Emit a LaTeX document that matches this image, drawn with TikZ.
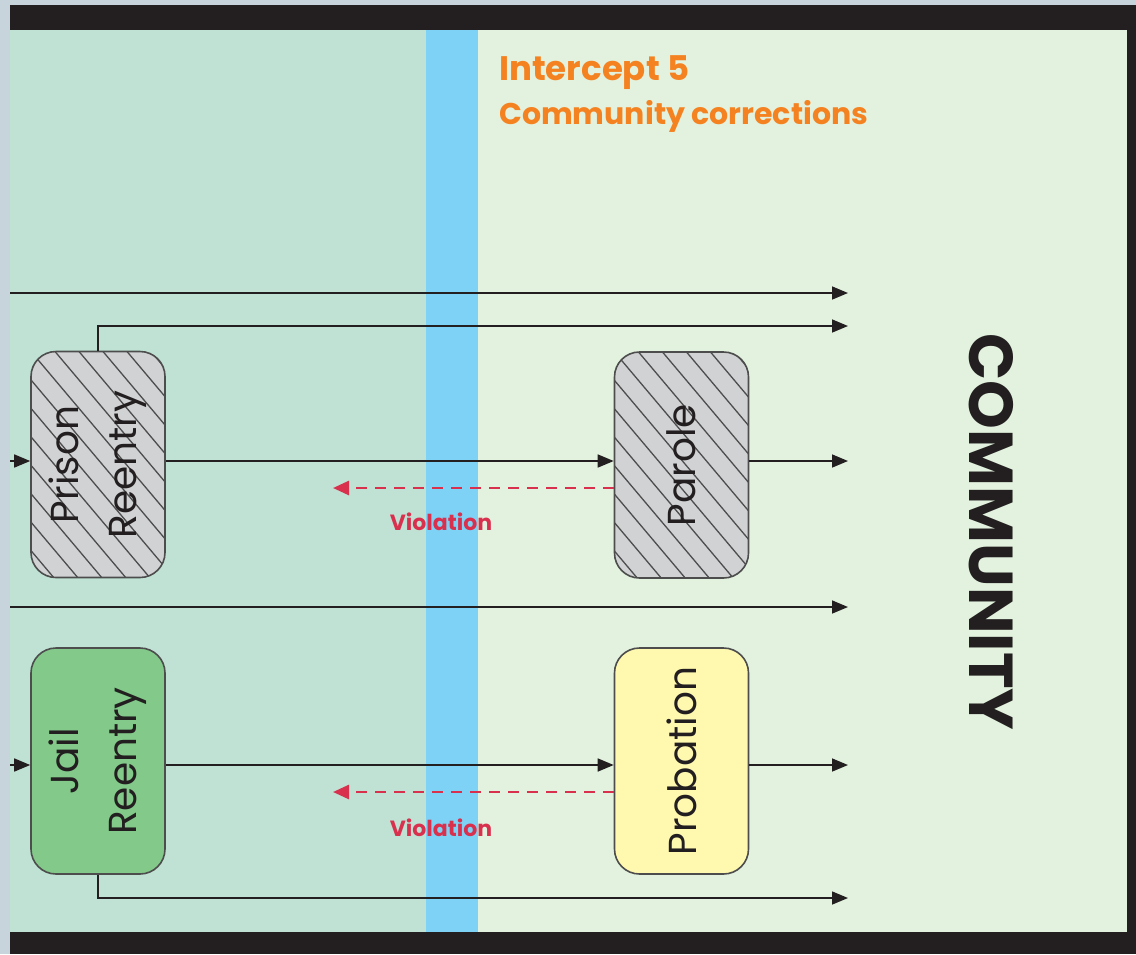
\documentclass[tikz,border=0pt]{standalone}
\usepackage{fontspec}
\setmainfont{Poppins}
\usetikzlibrary{arrows.meta}

\definecolor{outerbg}{HTML}{C8D4DC}
\definecolor{framecol}{HTML}{231F20}
\definecolor{jailzone}{HTML}{BFE2D4}
\definecolor{bandcol}{HTML}{7DD2F6}
\definecolor{commzone}{HTML}{E2F2DE}
\definecolor{boxgray}{HTML}{D1D2D4}
\definecolor{boxgreen}{HTML}{82C98A}
\definecolor{boxyellow}{HTML}{FFF9B0}
\definecolor{titleorange}{HTML}{F58220}
\definecolor{violred}{HTML}{D9304E}
\definecolor{edgecol}{HTML}{4D4D4D}

\tikzset{
  stepbox/.style={draw=edgecol, line width=1.6pt, rounded corners=25pt,
    minimum width=134pt, minimum height=226pt, inner sep=0pt},
  hatched/.style={path picture={
      \foreach \k in {-14,...,8}
        \draw[edgecol, line width=1.3pt]
          ([xshift=\k*24pt]path picture bounding box.north west) -- ++(270,320);
    }},
  boxlabel/.style={rotate=90, align=center, text=framecol,
    font=\fontsize{39}{58}\selectfont},
  flow/.style={draw=framecol, line width=1.6pt,
    -{Triangle[length=16pt,width=13pt]}},
  violation/.style={draw=violred, line width=2.6pt, dash pattern=on 11pt off 8pt,
    -{Triangle[length=16pt,width=14pt]}},
  violtext/.style={text=violred, font=\bfseries\fontsize{22}{24}\selectfont},
  titletext/.style={anchor=base west, text=titleorange, inner sep=0pt},
}

\begin{document}
\begin{tikzpicture}[x=1pt, y=-1pt]
\useasboundingbox (0,0) rectangle (1136,954);

% background zones and frame
\fill[outerbg] (0,0) rectangle (1136,954);
\fill[framecol] (10,5) rectangle (1136,954);
\fill[jailzone] (10,30) rectangle (426,932);
\fill[bandcol] (426,30) rectangle (478,932);
\fill[commzone] (478,30) rectangle (1127,932);

% heading
\node[titletext, font=\bfseries\fontsize{34}{40}\selectfont] (title1) at (499,80) {Intercept 5};
\node[titletext, font=\bfseries\fontsize{30}{36}\selectfont] (title2) at (499,124) {Community corrections};

% community label
\node[rotate=-90, text=framecol, font=\bfseries\fontsize{62}{70}\selectfont] (community) at (991,532) {COMMUNITY};

% boxes
\node[stepbox, hatched, fill=boxgray] (prison) at (98,464.5) {};
\node[stepbox, hatched, fill=boxgray] (parole) at (681.5,465) {};
\node[stepbox, fill=boxgreen] (jail) at (98,761) {};
\node[stepbox, fill=boxyellow] (probation) at (681.5,761) {};

\node[boxlabel] (prisonlbl) at (prison.center) {Prison\\Reentry};
\node[boxlabel] (parolelbl) at (parole.center) {Parole};
\node[boxlabel] (jaillbl) at (jail.center) {Jail\\Reentry};
\node[boxlabel] (probationlbl) at (probation.center) {Probation};

% row levels and free ends
\coordinate (s1) at (10,293);   \coordinate (e1) at (848,293);
\coordinate (e2) at (848,326);
\coordinate (s3) at (10,461);   \coordinate (e3) at (848,461);
\coordinate (v3) at (333,488);
\coordinate (s6) at (10,607);   \coordinate (e6) at (848,607);
\coordinate (s7) at (10,765);   \coordinate (e7) at (848,765);
\coordinate (v7) at (333,792);
\coordinate (e9) at (848,898);

% through lines
\draw[flow] (s1) -- (e1);
\draw[flow] (s6) -- (e6);

% prison row
\draw[flow] (prison.north) |- (e2);
\draw[flow] (s3) -- (prison.west |- s3);
\draw[flow] (prison.east |- s3) -- (parole.west |- s3);
\draw[flow] (parole.east |- s3) -- (e3);
\draw[violation] (parole.west |- v3) -- (v3);
\node[violtext] (viol1) at (441,522) {Violation};

% jail row
\draw[flow] (s7) -- (jail.west |- s7);
\draw[flow] (jail.east |- s7) -- (probation.west |- s7);
\draw[flow] (probation.east |- s7) -- (e7);
\draw[violation] (probation.west |- v7) -- (v7);
\node[violtext] (viol2) at (441,828) {Violation};
\draw[flow] (jail.south) |- (e9);
\end{tikzpicture}
\end{document}
